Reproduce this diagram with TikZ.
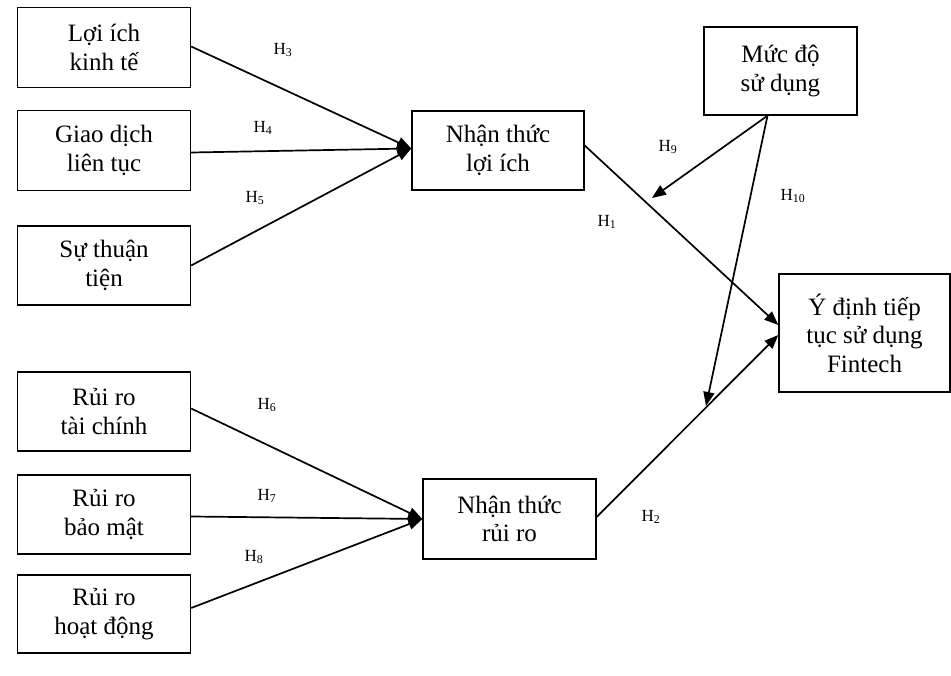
\documentclass[tikz,border=0pt]{standalone}
\usepackage{fontspec}
\setmainfont{Liberation Serif}
\usetikzlibrary{arrows.meta,calc}
\begin{document}
\begin{tikzpicture}[x=1pt,y=-1pt,
 box/.style={draw, line width=1.4pt, align=center, font=\fontsize{25}{28.5}\selectfont, inner sep=0pt},
 arr/.style={line width=1.7pt, -{Triangle[length=14pt,width=11pt]}},
 hl/.style={font=\fontsize{17}{20}\selectfont}]
\useasboundingbox[fill=white] (0,0) rectangle (951,676);
\node[box, minimum width=173pt, minimum height=80pt] (a) at (104,47.5) {Lợi ích\\kinh tế};
\node[box, minimum width=173pt, minimum height=80pt] (b) at (104,150.5) {Giao dịch\\liên tục};
\node[box, minimum width=173pt, minimum height=79pt] (c) at (104,265.5) {Sự thuận\\tiện};
\node[box, minimum width=172pt, minimum height=79pt] (d) at (498,150.5) {Nhận thức\\lợi ích};
\node[box, minimum width=153pt, minimum height=88pt] (e) at (780.5,71) {Mức độ\\sử dụng};
\node[box, minimum width=171pt, minimum height=118pt] (f) at (864.5,333) {Ý định tiếp\\tục sử dụng\\Fintech};
\node[box, minimum width=173pt, minimum height=79pt] (g) at (104,411.5) {Rủi ro\\tài chính};
\node[box, minimum width=173pt, minimum height=79pt] (h) at (104,514.5) {Rủi ro\\bảo mật};
\node[box, minimum width=173pt, minimum height=78pt] (i) at (104,614) {Rủi ro\\hoạt động};
\node[box, minimum width=173pt, minimum height=80pt] (j) at (509.5,519) {Nhận thức\\rủi ro};

\coordinate (t9) at (652,198);
\coordinate (t10) at (706,406);
\coordinate (es) at ($(e.south)+(-13,0)$);

\draw[arr] ($(a.east)+(0,-1)$) -- ($(d.west)+(0,-2)$);
\draw[arr] ($(b.east)+(0,2)$) -- ($(d.west)+(0,-2)$);
\draw[arr] (c.east) -- ($(d.west)+(0,-2)$);
\draw[arr] ($(g.east)+(0,-3)$) -- (j.west);
\draw[arr] ($(h.east)+(0,2)$) -- (j.west);
\draw[arr] ($(i.east)+(0,-6)$) -- (j.west);
\draw[arr] ($(d.east)+(0,-5)$) -- ($(f.west)+(0,-8)$);
\draw[arr] ($(j.east)+(0,-2)$) -- ($(f.west)+(0,2)$);
\draw[arr] (es) -- (t9);
\draw[arr] (es) -- (t10);

\node[hl] (h3) at (283,50) {H\textsubscript{3}};
\node[hl] (h4) at (263,128) {H\textsubscript{4}};
\node[hl] (h5) at (255,198) {H\textsubscript{5}};
\node[hl] (h1) at (607,222) {H\textsubscript{1}};
\node[hl] (h9) at (668,147) {H\textsubscript{9}};
\node[hl] (h10) at (793,196) {H\textsubscript{10}};
\node[hl] (h6) at (267,405) {H\textsubscript{6}};
\node[hl] (h7) at (267,496) {H\textsubscript{7}};
\node[hl] (h8) at (254,557) {H\textsubscript{8}};
\node[hl] (h2) at (651,517) {H\textsubscript{2}};
\end{tikzpicture}
\end{document}
